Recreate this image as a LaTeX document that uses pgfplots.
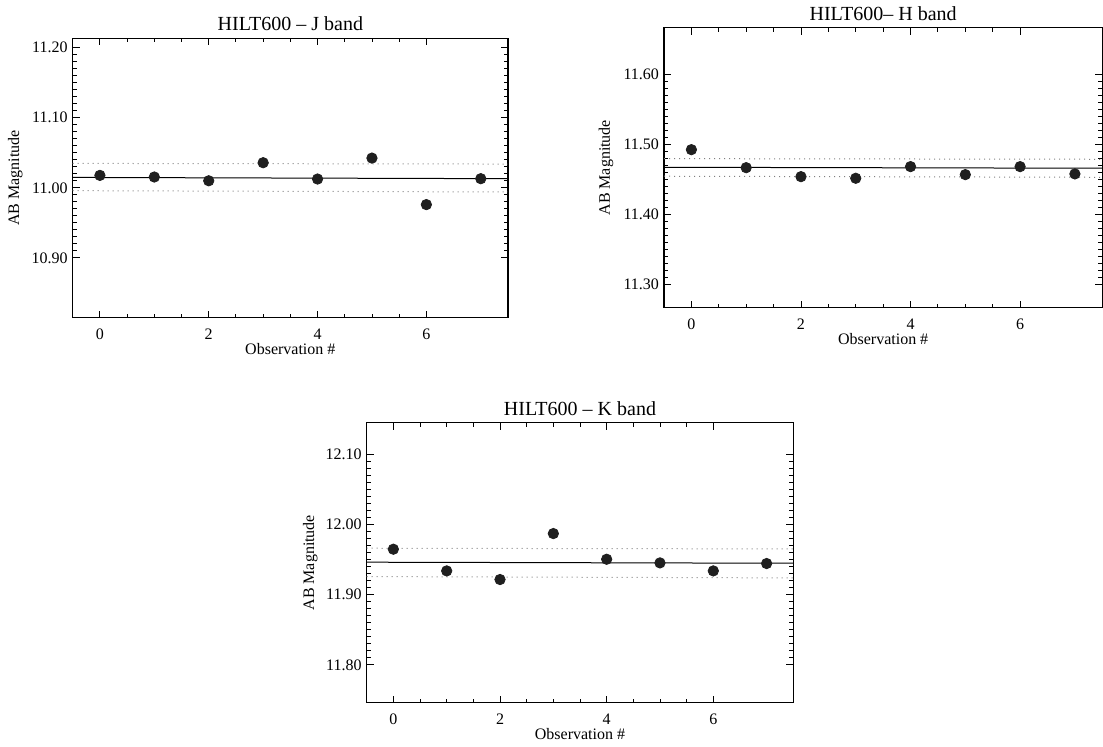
\documentclass[border=0pt]{standalone}
\usepackage{fontspec}
\setmainfont{Liberation Serif}
\usepackage{pgfplots}
\pgfplotsset{compat=1.18}
\pgfplotsset{
  common/.style={
    scale only axis,
    xmin=-0.5, xmax=7.5,
    xtick={0,2,4,6},
    minor x tick num=3,
    minor y tick num=9,
    tick align=inside,
    tick pos=both,
    major tick length=3.5pt,
    minor tick length=2pt,
    axis line style={line width=0.65pt},
    every tick/.style={black, line width=0.45pt},
    /pgf/number format/assume math mode=true,
    tick label style={font=\fontsize{8}{9}\selectfont},
    y tick label style={xshift=1pt, /pgf/number format/.cd, fixed, fixed zerofill, precision=2, /tikz/.cd},
    xticklabel style={yshift=-2.3pt},
    xlabel={Observation \#},
    ylabel={AB Magnitude},
    label style={font=\fontsize{8}{9}\selectfont},
    xlabel style={at={(axis description cs:0.5,0)}, anchor=base, yshift=-18.5pt},
    ylabel style={at={(axis description cs:-0.132,0.5)}, anchor=center},
    every axis title shift=0pt,
    title style={font=\fontsize{10}{12}\selectfont, at={(axis description cs:0.5,1)}, anchor=base, yshift=3.8pt},
  },
  meanline/.style={black, line width=0.5pt},
  sigline/.style={gray, dotted, line width=0.5pt},
  pts/.style={only marks, mark=*, mark size=2.6pt, color=black!88},
}
\begin{document}
\begin{tikzpicture}[x=1pt,y=1pt]
\useasboundingbox (0,0) rectangle (551.5,373.5);
% J band
\begin{axis}[common, at={(36.35pt,214.65pt)}, anchor=south west,
  width=217.65pt, height=139.7pt,
  ymin=10.8146, ymax=11.2134, ytick={10.9,11.0,11.1,11.2},
  title={HILT600 -- J band}]
\addplot[sigline] coordinates {(-0.5,11.0348) (7.5,11.0339)};
\addplot[sigline] coordinates {(-0.5,10.9959) (7.5,10.9940)};
\addplot[meanline] coordinates {(-0.5,11.0148) (7.5,11.0130)};
\addplot[pts] coordinates {(0,11.0177) (1,11.0154) (2,11.0100) (3,11.0358) (4,11.0125) (5,11.0424) (6,10.9760) (7,11.0130)};
\end{axis}
% H band
\begin{axis}[common, at={(332pt,219.65pt)}, anchor=south west,
  width=219.15pt, height=140pt,
  ymin=11.2666, ymax=11.666, ytick={11.3,11.4,11.5,11.6},
  title={HILT600-- H band}]
\addplot[sigline] coordinates {(-0.5,11.4792) (7.5,11.4783)};
\addplot[sigline] coordinates {(-0.5,11.4541) (7.5,11.4526)};
\addplot[meanline] coordinates {(-0.5,11.4669) (7.5,11.4655)};
\addplot[pts] coordinates {(0,11.4920) (1,11.4663) (2,11.4535) (3,11.4512) (4,11.4678) (5,11.4564) (6,11.4678) (7,11.4574)};
\end{axis}
% K band
\begin{axis}[common, at={(183.35pt,22.15pt)}, anchor=south west,
  width=213.3pt, height=140pt,
  ymin=11.746, ymax=12.145, ytick={11.8,11.9,12.0,12.1},
  title={HILT600 -- K band}]
\addplot[sigline] coordinates {(-0.5,11.9661) (7.5,11.9651)};
\addplot[sigline] coordinates {(-0.5,11.9257) (7.5,11.9238)};
\addplot[meanline] coordinates {(-0.5,11.9462) (7.5,11.9447)};
\addplot[pts] coordinates {(0,11.9647) (1,11.9338) (2,11.9215) (3,11.9870) (4,11.9504) (5,11.9452) (6,11.9338) (7,11.9443)};
\end{axis}
\end{tikzpicture}
\end{document}
